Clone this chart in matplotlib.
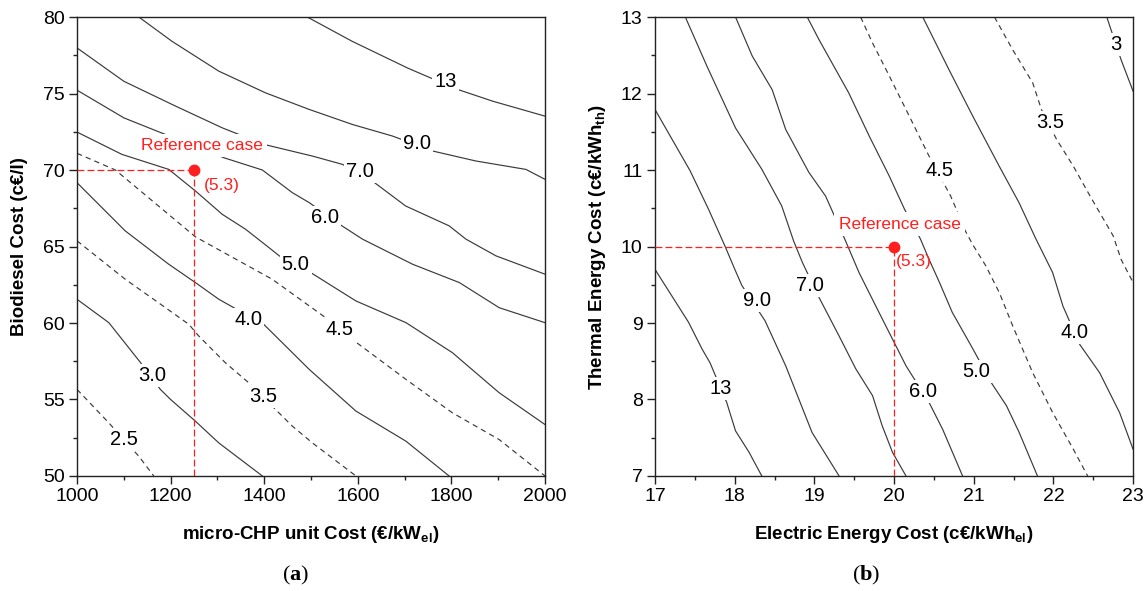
import matplotlib

matplotlib.use("Agg")

import matplotlib.pyplot as plt  # noqa: E402
from matplotlib.ticker import MultipleLocator  # noqa: E402

plt.rcParams["font.family"] = ["Liberation Sans", "DejaVu Sans"]
plt.rcParams["mathtext.fontset"] = "custom"
plt.rcParams["mathtext.sf"] = "Liberation Sans:bold"
plt.rcParams["mathtext.bf"] = "Liberation Serif:bold"
plt.rcParams["mathtext.rm"] = "Liberation Serif"

# --------------------------------------------------------------------------- #
# (a) payback iso-lines: micro-CHP unit cost (€/kW_el) vs biodiesel cost (c€/l)
# --------------------------------------------------------------------------- #
chp_13_x = [1492, 1588, 1706, 1810, 1888, 2000]
chp_13_y = [80, 78.41, 76.67, 75.3, 74.5, 73.52]
chp_9_x = [1132, 1203, 1303, 1403, 1496, 1588, 1674, 1760, 1852, 1959, 2000]
chp_9_y = [80, 78.41, 76.46, 75.04, 73.96, 72.98, 72.22, 71.24, 70.59, 70.04, 69.39]
chp_7_x = [1000, 1100, 1211, 1310, 1400, 1503, 1567, 1631, 1702, 1795, 1831, 1895, 2000]
chp_7_y = [77.98, 75.8, 74.17, 72.76, 71.67, 70.91, 70.37, 69.28, 67.65, 66.35, 65.48, 64.39, 63.19]
chp_6_x = [1000, 1100, 1153, 1314, 1396, 1460, 1496, 1564, 1610, 1717, 1817, 1902, 2000]
chp_6_y = [75.22, 73.41, 72.76, 70.8, 70.0, 68.52, 67.87, 66.39, 65.48, 63.84, 62.64, 61.0, 60.02]
chp_5_x = [1000, 1096, 1196, 1253, 1310, 1360, 1410, 1432, 1499, 1596, 1703, 1802, 1902, 2000]
chp_5_y = [72.48, 71.02, 70.04, 68.63, 67.11, 66.13, 64.93, 64.39, 63.3, 61.44, 60.02, 58.06, 55.44, 53.36]
chp_45_x = [1000, 1082, 1253, 1346, 1417, 1531, 1588, 1703, 1802, 1902, 2000]
chp_45_y = [71.09, 70.0, 65.63, 64.06, 62.86, 60.35, 58.93, 56.31, 54.13, 52.38, 50.0]
chp_4_x = [1000, 1103, 1196, 1253, 1303, 1335, 1399, 1496, 1596, 1703, 1795]
chp_4_y = [69.17, 66.02, 63.84, 62.64, 61.55, 61.0, 59.91, 56.97, 54.24, 52.27, 50.0]
chp_35_x = [1000, 1103, 1189, 1239, 1260, 1317, 1367, 1424, 1460, 1503, 1596]
chp_35_y = [65.37, 62.86, 61.0, 59.91, 59.15, 57.4, 56.09, 54.35, 53.26, 52.16, 50.0]
chp_3_x = [1000, 1068, 1136, 1178, 1200, 1253, 1303, 1396]
chp_3_y = [61.55, 60.02, 57.4, 55.66, 55.0, 53.58, 52.16, 50.0]
chp_25_x = [1000, 1068, 1132, 1164]
chp_25_y = [55.66, 53.47, 51.29, 50.0]

chp_label_text = ["13", "9.0", "7.0", "6.0", "5.0", "4.5", "4.0", "3.5", "3.0", "2.5"]
chp_label_x = [1787, 1727, 1605, 1529, 1467, 1560, 1366, 1397, 1160, 1100]
chp_label_y = [75.8, 71.74, 69.93, 66.89, 63.84, 59.59, 60.24, 55.22, 56.57, 52.38]

chp_ref = (1250, 70)  # reference micro-CHP cost / biodiesel cost
chp_ref_payback = 5.3

# --------------------------------------------------------------------------- #
# (b) payback iso-lines: electric vs thermal energy cost (c€/kWh)
# --------------------------------------------------------------------------- #
el_13_x = [17, 17.42, 17.59, 17.69, 17.90, 18.01, 18.18, 18.34]
el_13_y = [9.70, 9.01, 8.66, 8.48, 7.96, 7.59, 7.31, 7.0]
el_9_x = [17, 17.44, 17.67, 17.88, 18.01, 18.09, 18.38, 18.64, 18.97, 19.31]
el_9_y = [11.79, 10.99, 10.49, 10.0, 9.68, 9.49, 9.03, 8.44, 7.57, 7.0]
el_7_x = [17.38, 17.65, 18.01, 18.34, 18.59, 18.74, 18.85, 19.06, 19.31, 19.52, 19.73, 19.85, 19.98, 20.15]
el_7_y = [13, 12.36, 11.55, 11.01, 10.53, 10.07, 9.79, 9.33, 8.83, 8.40, 8.05, 7.66, 7.31, 7.0]
el_6_x = [18.01, 18.22, 18.47, 18.64, 18.93, 19.14, 19.38, 19.56, 19.81, 19.98, 20.15, 20.44, 20.61, 20.86]
el_6_y = [13, 12.49, 12.05, 11.53, 10.97, 10.66, 10.10, 9.66, 9.14, 8.79, 8.44, 7.96, 7.61, 7.0]
el_5_x = [18.91, 19.06, 19.43, 19.69, 19.94, 20.13, 20.33, 20.44, 20.57, 20.73, 20.99, 21.22, 21.41, 21.57, 21.80]
el_5_y = [13, 12.70, 12.01, 11.44, 10.92, 10.49, 10.10, 9.83, 9.53, 9.14, 8.66, 8.22, 7.92, 7.57, 7.0]
el_45_x = [19.58, 19.73, 19.94, 20.15, 20.44, 20.71, 20.78, 20.86, 20.99, 21.15, 21.32, 21.49, 21.74, 21.99, 22.25, 22.43]
el_45_y = [13, 12.66, 12.23, 11.79, 11.18, 10.66, 10.49, 10.27, 10.02, 9.75, 9.40, 8.96, 8.35, 7.83, 7.35, 7.0]
el_4_x = [20.36, 20.69, 20.99, 21.32, 21.57, 21.78, 21.99, 22.12, 22.33, 22.58, 22.83, 23.0]
el_4_y = [13, 12.31, 11.70, 11.05, 10.57, 10.10, 9.66, 9.22, 8.72, 8.35, 7.83, 7.35]
el_35_x = [21.26, 21.49, 21.74, 21.85, 22.04, 22.25, 22.46, 22.75, 22.85, 23.0]
el_35_y = [13, 12.57, 12.14, 11.79, 11.40, 11.05, 10.66, 10.14, 9.83, 9.53]
el_3_x = [22.67, 22.75, 22.85, 23.0]
el_3_y = [13, 12.75, 12.44, 12.03]

el_label_text = ["13", "9.0", "7.0", "6.0", "5.0", "4.5", "4.0", "3.5", "3"]
el_label_x = [17.82, 18.28, 18.95, 20.36, 21.03, 20.57, 22.27, 21.96, 22.78]
el_label_y = [8.14, 9.29, 9.49, 8.11, 8.37, 10.99, 8.88, 11.62, 12.64]

el_ref = (20, 10)  # reference electric / thermal energy cost
el_ref_payback = 5.3

LINE_COLOR = "#3a3a3a"
RED = "#ff1f1f"


def _contours(ax, lines):
    for xs, ys, dashed in lines:
        (ln,) = ax.plot(xs, ys, color=LINE_COLOR, lw=0.85, zorder=2, solid_joinstyle="miter")
        if dashed:
            ln.set_dashes((4.5, 3.5))


def _labels(ax, texts, xs, ys):
    for t, x, y in zip(texts, xs, ys):
        ax.text(x, y, t, fontsize=14.5, ha="center", va="center", zorder=4,
                bbox=dict(boxstyle="square,pad=0.1", fc="white", ec="none"))


def _reference(ax, ref, payback, xmin, ymin, text_xy, val_xy):
    rx, ry = ref
    ax.plot([xmin, rx], [ry, ry], color=RED, lw=0.9, dashes=(5.5, 2.5), zorder=5)
    ax.plot([rx, rx], [ymin, ry], color=RED, lw=0.9, dashes=(5.5, 2.5), zorder=5)
    ax.plot([rx], [ry], "o", color=RED, ms=7.5, zorder=6)
    ax.text(*text_xy, "Reference case", color=RED, fontsize=12.5, ha="center", va="center",
            zorder=4, bbox=dict(boxstyle="square,pad=0.25", fc="white", ec="none"))
    ax.text(*val_xy, f"({payback})", color=RED, fontsize=12.5, ha="left", va="center", zorder=6)


def _style(ax, xlim, ylim, xmaj, xmin_, ymaj, ymin_):
    ax.set_xlim(*xlim)
    ax.set_ylim(*ylim)
    ax.xaxis.set_major_locator(MultipleLocator(xmaj))
    ax.xaxis.set_minor_locator(MultipleLocator(xmin_))
    ax.yaxis.set_major_locator(MultipleLocator(ymaj))
    ax.yaxis.set_minor_locator(MultipleLocator(ymin_))
    ax.tick_params(which="both", direction="out", width=1.0, labelsize=14, color="#222222")
    ax.tick_params(which="major", length=5.5)
    ax.tick_params(which="minor", length=3)
    for s in ax.spines.values():
        s.set_linewidth(1.0)
        s.set_color("#222222")


fig = plt.figure(figsize=(11.48, 5.91), dpi=100)
ax_a = fig.add_axes([0.0671, 0.1946, 0.4077, 0.7766])
ax_b = fig.add_axes([0.5706, 0.1946, 0.4164, 0.7766])

# panel (a)
_contours(ax_a, [
    (chp_13_x, chp_13_y, False), (chp_9_x, chp_9_y, False), (chp_7_x, chp_7_y, False),
    (chp_6_x, chp_6_y, False), (chp_5_x, chp_5_y, False), (chp_45_x, chp_45_y, True),
    (chp_4_x, chp_4_y, False), (chp_35_x, chp_35_y, True), (chp_3_x, chp_3_y, False),
    (chp_25_x, chp_25_y, True),
])
_labels(ax_a, chp_label_text, chp_label_x, chp_label_y)
_reference(ax_a, chp_ref, chp_ref_payback, 1000, 50, (1266, 71.61), (1271, 69.0))
_style(ax_a, (1000, 2000), (50, 80), 200, 100, 5, 2.5)
ax_a.set_xlabel(r"micro-CHP unit Cost (€/kW$_\mathsf{el}$)", fontsize=13.5, fontweight="bold")
ax_a.set_ylabel("Biodiesel Cost (c€/l)", fontsize=13.5, fontweight="bold")

# panel (b)
_contours(ax_b, [
    (el_13_x, el_13_y, False), (el_9_x, el_9_y, False), (el_7_x, el_7_y, False),
    (el_6_x, el_6_y, False), (el_5_x, el_5_y, False), (el_45_x, el_45_y, True),
    (el_4_x, el_4_y, False), (el_35_x, el_35_y, True), (el_3_x, el_3_y, False),
])
_labels(ax_b, el_label_text, el_label_x, el_label_y)
_reference(ax_b, el_ref, el_ref_payback, 17, 7, (20.07, 10.29), (20.02, 9.80))
_style(ax_b, (17, 23), (7, 13), 1, 0.5, 1, 0.5)
ax_b.set_xlabel(r"Electric Energy Cost (c€/kWh$_\mathsf{el}$)", fontsize=13.5, fontweight="bold")
ax_b.set_ylabel(r"Thermal Energy Cost (c€/kWh$_\mathsf{th}$)", fontsize=13.5, fontweight="bold")

for ax, xpos in ((ax_a, -0.122), (ax_b, -0.121)):
    ax.xaxis.set_label_coords(0.5, -0.1285)
    ax.xaxis.label.set_va("center")
    ax.yaxis.set_label_coords(xpos, 0.5)
    ax.yaxis.label.set_va("center")

fig.text(296 / 1148, 1 - 575 / 591, r"($\mathbf{a}$)", fontsize=16, family="Liberation Serif",
         ha="center", va="center")
fig.text(866 / 1148, 1 - 575 / 591, r"($\mathbf{b}$)", fontsize=16, family="Liberation Serif",
         ha="center", va="center")

fig.savefig("out.png", dpi=100)
